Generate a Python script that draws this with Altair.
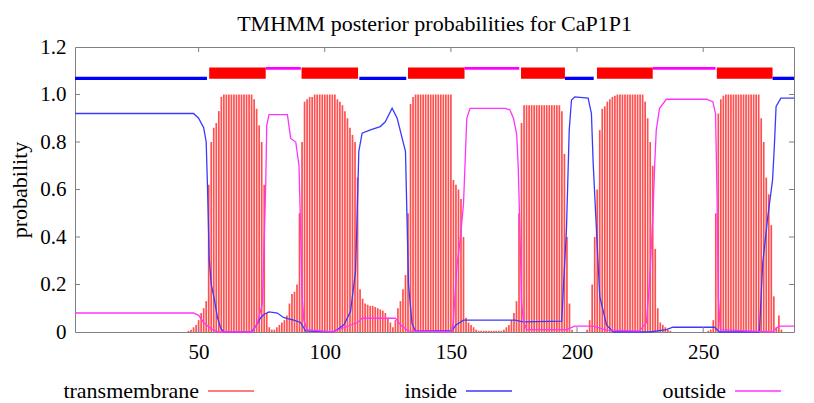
import altair as alt
import pandas as pd

TITLE = "TMHMM posterior probabilities for CaP1P1"
SERIES = ["transmembrane", "inside", "outside"]
SERIES_COLORS = ["#ff5050", "#3a3aff", "#ff33ff"]

X_MIN, X_MAX = 1, 286
X_TICKS = [50, 100, 150, 200, 250]
Y_TICKS = [0, 0.2, 0.4, 0.6, 0.8, 1.0, 1.2]
Y_INNER_TICKS = [0.2, 0.4, 0.6, 0.8, 1.0]

# transmembrane posterior probability, residues 1..286
TM_PROB = [
    0, 0, 0, 0, 0, 0, 0, 0, 0, 0,
    0, 0, 0, 0, 0, 0, 0, 0, 0, 0,
    0, 0, 0, 0, 0, 0, 0, 0, 0, 0,
    0, 0, 0, 0, 0, 0, 0, 0, 0, 0,
    0, 0, 0, 0, 0, 0.005, 0.01, 0.02, 0.03, 0.05,
    0.08, 0.1, 0.13, 0.62, 0.8, 0.86, 0.88, 0.93, 0.99, 1.0,
    1.0, 1.0, 1.0, 1.0, 1.0, 1.0, 1.0, 1.0, 1.0, 1.0,
    1.0, 0.98, 0.94, 0.87, 0.8, 0.62, 0.08, 0.02, 0.01, 0.01,
    0.02, 0.03, 0.04, 0.05, 0.07, 0.12, 0.16, 0.17, 0.2, 0.5,
    0.8, 0.97, 0.98, 0.99, 0.99, 1.0, 1.0, 1.0, 1.0, 1.0,
    1.0, 1.0, 1.0, 1.0, 0.98, 0.97, 0.955, 0.93, 0.9, 0.86,
    0.83, 0.8, 0.65, 0.18, 0.14, 0.12, 0.115, 0.11, 0.11, 0.105,
    0.1, 0.095, 0.09, 0.08, 0.06, 0.04, 0.02, 0.05, 0.1, 0.13,
    0.18, 0.24, 0.5, 0.96, 0.99, 1.0, 1.0, 1.0, 1.0, 1.0,
    1.0, 1.0, 1.0, 1.0, 1.0, 1.0, 1.0, 1.0, 1.0, 1.0,
    0.64, 0.62, 0.6, 0.56, 0.4, 0.06, 0.04, 0.03, 0.02, 0.01,
    0.005, 0.005, 0.005, 0.005, 0.005, 0.005, 0.005, 0.005, 0.005, 0.005,
    0.01, 0.02, 0.03, 0.05, 0.08, 0.13, 0.5, 0.88, 0.955, 0.955,
    0.955, 0.955, 0.955, 0.955, 0.955, 0.955, 0.955, 0.955, 0.955, 0.955,
    0.955, 0.955, 0.955, 0.93, 0.75, 0.4, 0.12, 0.01, 0.0, 0.0,
    0.0, 0.0, 0.0, 0.01, 0.05, 0.2, 0.4, 0.6, 0.85, 0.94,
    0.95, 0.97, 0.98, 0.99, 0.995, 1.0, 1.0, 1.0, 1.0, 1.0,
    1.0, 1.0, 1.0, 1.0, 1.0, 1.0, 0.97, 0.9, 0.8, 0.7,
    0.35, 0.1, 0.04, 0.03, 0.02, 0.01, 0.005, 0.0, 0.0, 0.0,
    0, 0, 0, 0, 0, 0, 0, 0, 0, 0,
    0.0, 0.005, 0.01, 0.05, 0.5, 0.92, 0.98, 0.995, 1.0, 1.0,
    1.0, 1.0, 1.0, 1.0, 1.0, 1.0, 1.0, 1.0, 1.0, 1.0,
    1.0, 1.0, 0.9, 0.8, 0.65, 0.58, 0.45, 0.15, 0.02, 0.07,
    0.01, 0.0, 0.0, 0.0, 0.0, 0.0,
]

INSIDE_POS = [1, 48, 50, 52, 53, 53.5, 54.2, 55, 56.2, 57.5, 58.8, 60, 71, 73, 74.6, 76,
              77.9, 80, 81.2, 83.8, 87.7, 90.4, 92.4, 103, 105, 107.6, 110.2, 112.2, 112.8,
              113.5, 114.8, 118.1, 122, 124, 126.7, 128.7, 130, 132, 132.6, 133.2, 134.6,
              135.9, 150.4, 152, 155, 175.4, 178.6, 193.9, 195.8, 196.9, 197.8, 199.1,
              204.4, 205.7, 206.4, 207.7, 209, 211.7, 214.3, 228.8, 235.4, 238, 254.5,
              256.5, 272.3, 273.6, 275.6, 277.5, 278.2, 278.9, 280.8, 286]
INSIDE_VAL = [0.92, 0.92, 0.9, 0.86, 0.8, 0.62, 0.31, 0.2, 0.14, 0.06, 0.015, 0.0, 0.0, 0.03,
              0.06, 0.075, 0.085, 0.082, 0.08, 0.06, 0.05, 0.04, 0.005, 0.0, 0.01, 0.03,
              0.086, 0.254, 0.48, 0.76, 0.837, 0.851, 0.865, 0.885, 0.942, 0.9, 0.845,
              0.76, 0.48, 0.2, 0.035, 0.005, 0.005, 0.03, 0.05, 0.05, 0.043, 0.046, 0.43,
              0.85, 0.977, 0.99, 0.985, 0.92, 0.71, 0.43, 0.15, 0.03, 0.0, 0.0, 0.01,
              0.02, 0.02, 0.0, 0.0, 0.29, 0.485, 0.64, 0.78, 0.95, 0.985, 0.985]

OUTSIDE_POS = [1, 48, 50, 52.2, 55.5, 58, 71.3, 73.3, 75.3, 76.6, 77, 77.9, 85.2, 86.5, 88.5,
               89.8, 90.4, 91, 91.7, 93, 103, 108, 113, 114.8, 128, 130, 133, 150.4, 151,
               152.4, 153.7, 155, 156.3, 157.6, 171.5, 173.4, 174.8, 176.1, 176.7, 177.4,
               178, 178.7, 180, 195.8, 199.1, 206.4, 211.7, 224.8, 227.5, 228.8, 230.1,
               230.8, 231.4, 232.7, 235.4, 251.2, 253.8, 254.9, 255.5, 256, 256.8, 277.5,
               278.9, 280, 286]
OUTSIDE_VAL = [0.08, 0.08, 0.07, 0.037, 0.01, 0.0, 0.0, 0.037, 0.12, 0.62, 0.87, 0.915, 0.915,
               0.815, 0.8, 0.7, 0.44, 0.15, 0.05, 0.01, 0.0, 0.02, 0.04, 0.058, 0.058, 0.03,
               0.005, 0.0, 0.05, 0.28, 0.39, 0.54, 0.9, 0.942, 0.942, 0.935, 0.9, 0.83,
               0.69, 0.41, 0.13, 0.05, 0.01, 0.01, 0.025, 0.025, 0.008, 0.005, 0.04, 0.22,
               0.5, 0.71, 0.85, 0.942, 0.98, 0.98, 0.97, 0.92, 0.57, 0.15, 0.01, 0.0,
               0.015, 0.025, 0.025]

# predicted topology (residue ranges) shown above the curves
TOPO_IN_START = [1, 113.7, 195.2, 277.5]
TOPO_IN_END = [53.3, 132.3, 206.6, 286]
TOPO_OUT_START = [76.6, 155.4, 230]
TOPO_OUT_END = [90.5, 177.1, 254.9]
TOPO_TM_START = [54.2, 90.8, 133, 177.8, 207.9, 255.4]
TOPO_TM_END = [76.6, 113.2, 155.4, 195.2, 230, 277.5]
LEVEL_IN = 1.068
LEVEL_OUT = 1.11
TM_LOW, TM_HIGH = 1.066, 1.114

FONT = "Liberation Serif"

tm_df = pd.DataFrame({"res": list(range(X_MIN, X_MAX + 1)), "prob": TM_PROB,
                      "series": SERIES[0]})
in_df = pd.DataFrame({"res": INSIDE_POS, "prob": INSIDE_VAL, "series": SERIES[1]})
out_df = pd.DataFrame({"res": OUTSIDE_POS, "prob": OUTSIDE_VAL, "series": SERIES[2]})

topo_in = pd.DataFrame({"s": TOPO_IN_START, "e": TOPO_IN_END, "lvl": LEVEL_IN})
topo_out = pd.DataFrame({"s": TOPO_OUT_START, "e": TOPO_OUT_END, "lvl": LEVEL_OUT})
topo_tm = pd.DataFrame({"s": TOPO_TM_START, "e": TOPO_TM_END, "lo": TM_LOW, "hi": TM_HIGH})

xscale = alt.Scale(domain=[X_MIN, X_MAX], nice=False, zero=False)
yscale = alt.Scale(domain=[0, 1.2], nice=False, zero=False)

x_axis = alt.Axis(values=X_TICKS, title=None, ticks=False, domain=False, grid=False,
                  labelFont=FONT, labelFontSize=21, labelColor="black", labelPadding=9)
y_axis = alt.Axis(values=Y_TICKS, title="probability", ticks=False, domain=False, grid=False,
                  labelExpr="datum.value == 0 ? '0' : format(datum.value, '.1f')",
                  labelFont=FONT, labelFontSize=21, labelColor="black", labelPadding=9,
                  titleFont=FONT, titleFontSize=22, titleFontWeight="normal",
                  titleColor="black", titlePadding=8)

color = alt.Color(
    "series:N",
    scale=alt.Scale(domain=SERIES, range=SERIES_COLORS),
    legend=alt.Legend(
        title=None, orient="none", legendX=132, legendY=320, direction="horizontal",
        columns=3, gridAlign="none", columnPadding=147, padding=0,
        symbolType="stroke", symbolSize=2116, symbolStrokeWidth=1.5,
        labelFont=FONT, labelFontSize=22, labelColor="black",
        labelAlign="right", labelOffset={"expr": "-56"}, labelLimit=0,
    ),
)

impulses = alt.Chart(tm_df).mark_rule(strokeWidth=1.7).encode(
    x=alt.X("res:Q", scale=xscale, axis=x_axis),
    y=alt.Y("prob:Q", scale=yscale, axis=y_axis),
    y2=alt.datum(0),
    color=color,
)

inside_line = alt.Chart(in_df).mark_line(strokeWidth=1.3).encode(
    x=alt.X("res:Q", scale=xscale), y=alt.Y("prob:Q", scale=yscale), color=color)
outside_line = alt.Chart(out_df).mark_line(strokeWidth=1.3).encode(
    x=alt.X("res:Q", scale=xscale), y=alt.Y("prob:Q", scale=yscale), color=color)

topo_in_mark = alt.Chart(topo_in).mark_rule(color="#0000ff", strokeWidth=3.3).encode(
    x=alt.X("s:Q", scale=xscale), x2="e:Q", y=alt.Y("lvl:Q", scale=yscale))
topo_out_mark = alt.Chart(topo_out).mark_rule(color="#ff00ff", strokeWidth=2.6).encode(
    x=alt.X("s:Q", scale=xscale), x2="e:Q", y=alt.Y("lvl:Q", scale=yscale))
topo_tm_mark = alt.Chart(topo_tm).mark_rect(color="#ff0000").encode(
    x=alt.X("s:Q", scale=xscale), x2="e:Q", y=alt.Y("lo:Q", scale=yscale), y2="hi:Q")

xt = pd.DataFrame({"v": X_TICKS})
yt = pd.DataFrame({"v": Y_INNER_TICKS})
TICK = "#808080"
top_ticks = alt.Chart(xt).mark_rule(color=TICK).encode(
    x=alt.X("v:Q", scale=xscale), y=alt.value(0), y2=alt.value(5))
bottom_ticks = alt.Chart(xt).mark_rule(color=TICK).encode(
    x=alt.X("v:Q", scale=xscale), y=alt.value(285), y2=alt.value(280))
left_ticks = alt.Chart(yt).mark_rule(color=TICK).encode(
    y=alt.Y("v:Q", scale=yscale), x=alt.value(0), x2=alt.value(5))
right_ticks = alt.Chart(yt).mark_rule(color=TICK).encode(
    y=alt.Y("v:Q", scale=yscale), x=alt.value(719), x2=alt.value(714))

chart = alt.layer(
    impulses, inside_line, outside_line,
    topo_in_mark, topo_out_mark, topo_tm_mark,
    top_ticks, bottom_ticks, left_ticks, right_ticks,
).properties(
    width=719, height=285,
    title=alt.TitleParams(TITLE, font=FONT, fontSize=22, fontWeight="normal",
                          color="black", anchor="middle", offset=0),
    autosize=alt.AutoSizeParams(type="none"),
    padding={"left": 67, "top": 39, "right": 12, "bottom": 80},
).configure_view(stroke="#808080", strokeWidth=1)

chart.save("out.html", embed_options={"renderer": "svg", "actions": False})
